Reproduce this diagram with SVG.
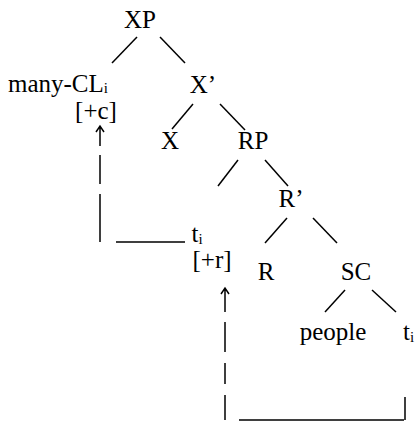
<svg xmlns="http://www.w3.org/2000/svg" width="417" height="424" viewBox="0 0 417 424">
<style>
text{font-family:"Liberation Serif","Times New Roman",serif;font-size:25px;fill:#000}
.m{text-anchor:middle}
.sub{font-size:15px}
line,path{stroke:#000;stroke-width:1.5;fill:none}
</style>
<rect width="417" height="424" fill="#fff"/>
<g id="n-xp"><text class="m" x="140" y="28">XP</text></g>
<g id="n-many"><text x="8" y="92">many-CL<tspan class="sub" dy="1">i</tspan></text><text class="m" x="96" y="119">[+c]</text></g>
<g id="n-xbar"><text class="m" x="203" y="93">X’</text></g>
<g id="n-x"><text class="m" x="170" y="149">X</text></g>
<g id="n-rp"><text class="m" x="253" y="149">RP</text></g>
<g id="n-t1"><text class="m" x="197" y="242">t<tspan class="sub" dy="2">i</tspan></text><text class="m" x="212" y="268">[+r]</text></g>
<g id="n-rbar"><text class="m" x="291" y="207">R’</text></g>
<g id="n-r"><text class="m" x="266" y="280">R</text></g>
<g id="n-sc"><text class="m" x="356" y="280">SC</text></g>
<g id="n-people"><text class="m" x="333" y="340">people</text></g>
<g id="n-t2"><text x="403" y="340">t<tspan class="sub" dy="2">i</tspan></text></g>
<g id="connectors">
<line x1="137" y1="37" x2="112" y2="63"/>
<line x1="160" y1="37" x2="185" y2="63"/>
<line x1="193" y1="104" x2="172" y2="129"/>
<line x1="220" y1="104" x2="245" y2="130"/>
<line x1="238" y1="160" x2="218" y2="186"/>
<line x1="265" y1="160" x2="288" y2="186"/>
<line x1="287" y1="218" x2="265" y2="243"/>
<line x1="313" y1="218" x2="337" y2="243"/>
<line x1="345" y1="290" x2="325" y2="312"/>
<line x1="372" y1="290" x2="396" y2="312"/>
<path d="M100 126V146M96 132L100 126L104 132"/>
<path d="M100 155V184M100 194V242M116 242H185"/>
<path d="M225 288V312M221 294L225 288L229 294"/>
<path d="M225 322V352M225 363V384M225 395V420M239 420H404M405 397V420"/>
</g>
</svg>
